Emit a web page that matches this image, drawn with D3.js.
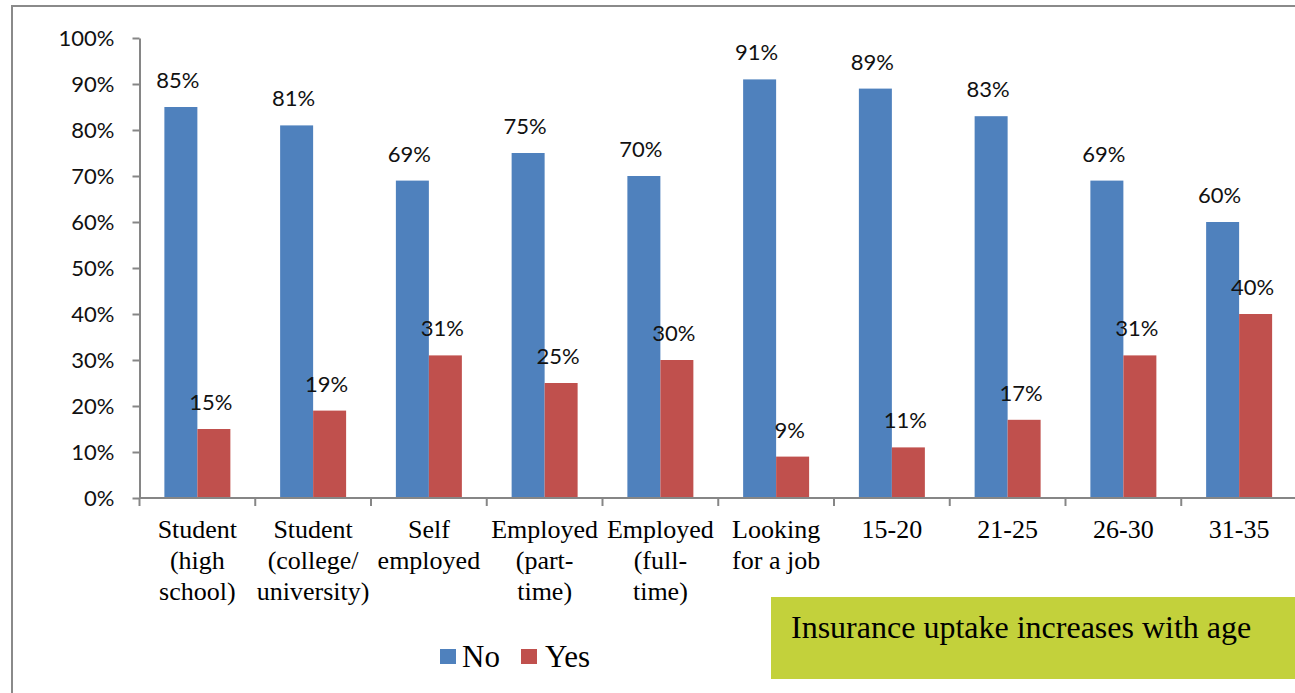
<!DOCTYPE html>
<html>
<head>
<meta charset="utf-8">
<script src="https://cdn.jsdelivr.net/npm/d3@7"></script>
<style>
  html, body { margin: 0; padding: 0; background: #fff; }
  svg { display: block; }
</style>
</head>
<body>
<svg id="chart" width="1295" height="693"></svg>
<script>
// Categories (employment status, then age groups), each label split into lines
const categories = [
  "Student (high school)", "Student (college/ university)", "Self employed",
  "Employed (part-time)", "Employed (full-time)", "Looking for a job",
  "15-20", "21-25", "26-30", "31-35"
];
const categoryLines = [
  ["Student", "(high", "school)"],
  ["Student", "(college/", "university)"],
  ["Self", "employed"],
  ["Employed", "(part-", "time)"],
  ["Employed", "(full-", "time)"],
  ["Looking", "for a job"],
  ["15-20"], ["21-25"], ["26-30"], ["31-35"]
];
const seriesNames = ["No", "Yes"];
const noValues  = [85, 81, 69, 75, 70, 91, 89, 83, 69, 60];
const yesValues = [15, 19, 31, 25, 30, 9, 11, 17, 31, 40];
const yTicks = [0, 10, 20, 30, 40, 50, 60, 70, 80, 90, 100];
const noteText = "Insurance uptake increases with age";

const colors = { No: "#4F81BD", Yes: "#C0504D" };
const axisGray = "#868686";
const sansFont = "Lato, 'Open Sans', sans-serif";
const serifFont = "'Liberation Serif', 'Times New Roman', serif";

const svg = d3.select("#chart");

// Outer frame of the figure
svg.append("path")
  .attr("d", "M12,700 L12,6 L1300,6")
  .attr("fill", "none")
  .attr("stroke", "#8a8a8a")
  .attr("stroke-width", 2);

const plot = { left: 139.5, right: 1297, top: 38, bottom: 498 };

const x0 = d3.scaleBand().domain(categories).range([plot.left, plot.right]).padding(0);
const x1 = d3.scaleBand().domain(seriesNames).range([0, x0.bandwidth()])
  .paddingInner(0).paddingOuter(0.754);
const y = d3.scaleLinear().domain([0, 100]).range([plot.bottom, plot.top]);

const rows = categories.map((c, i) => ({ cat: c, lines: categoryLines[i], No: noValues[i], Yes: yesValues[i] }));

// Bars
const groups = svg.append("g").selectAll("g").data(rows).join("g")
  .attr("transform", d => `translate(${x0(d.cat)},0)`);

groups.selectAll("rect")
  .data(d => seriesNames.map(s => ({ s, v: d[s] })))
  .join("rect")
  .attr("x", d => x1(d.s))
  .attr("width", x1.bandwidth())
  .attr("y", d => y(d.v))
  .attr("height", d => y(0) - y(d.v))
  .attr("fill", d => colors[d.s]);

// Value labels above bars
groups.selectAll("text.val")
  .data(d => seriesNames.map(s => ({ s, v: d[s] })))
  .join("text")
  .attr("class", "val")
  .attr("x", d => x1(d.s) + x1.bandwidth() / 2 - 3)
  .attr("y", d => y(d.v) - 19)
  .attr("text-anchor", "middle")
  .attr("font-family", sansFont)
  .attr("font-size", 22)
  .attr("fill", "#111")
  .text(d => d.v + "%");

// Y axis
const yAxis = d3.axisLeft(y).tickValues(yTicks).tickFormat(d => d + "%")
  .tickSize(7).tickSizeOuter(0).tickPadding(18);
const yg = svg.append("g").attr("transform", `translate(${plot.left},0)`).call(yAxis);
yg.select(".domain").attr("stroke", axisGray).attr("stroke-width", 2);
yg.selectAll(".tick line").attr("stroke", axisGray).attr("stroke-width", 2);
yg.selectAll(".tick text")
  .attr("font-family", sansFont).attr("font-size", 22).attr("fill", "#111");

// X axis line with ticks at category boundaries
const xg = svg.append("g");
xg.append("line")
  .attr("x1", plot.left).attr("x2", plot.right + 5)
  .attr("y1", y(0)).attr("y2", y(0))
  .attr("stroke", axisGray).attr("stroke-width", 2);
xg.selectAll("line.tick")
  .data(categories.concat([null]))
  .join("line")
  .attr("class", "tick")
  .attr("x1", (d, i) => plot.left + i * x0.step())
  .attr("x2", (d, i) => plot.left + i * x0.step())
  .attr("y1", y(0)).attr("y2", y(0) + 8)
  .attr("stroke", axisGray).attr("stroke-width", 2);

// Category labels
const catLabels = svg.append("g").selectAll("text").data(rows).join("text")
  .attr("x", d => x0(d.cat) + x0.bandwidth() / 2)
  .attr("y", y(0) + 40)
  .attr("text-anchor", "middle")
  .attr("font-family", serifFont)
  .attr("font-size", 26)
  .attr("fill", "#000");
catLabels.selectAll("tspan")
  .data(d => d.lines.map(l => ({ l, x: x0(d.cat) + x0.bandwidth() / 2 })))
  .join("tspan")
  .attr("x", d => d.x)
  .attr("dy", (d, i) => i === 0 ? 0 : 31)
  .text(d => d.l);

// Legend
const legend = svg.append("g");
const legendItems = [
  { s: "No", x: 440 },
  { s: "Yes", x: 521 }
];
legend.selectAll("rect").data(legendItems).join("rect")
  .attr("x", d => d.x).attr("y", 649)
  .attr("width", 16).attr("height", 15)
  .attr("fill", d => colors[d.s]);
legend.selectAll("text").data(legendItems).join("text")
  .attr("x", d => d.x + (d.s === "No" ? 22 : 24))
  .attr("y", 667)
  .attr("font-family", serifFont)
  .attr("font-size", 31)
  .attr("fill", "#000")
  .text(d => d.s);

// Highlighted note
svg.append("rect")
  .attr("x", 771).attr("y", 597)
  .attr("width", 560).attr("height", 82)
  .attr("fill", "#C3D13B");
svg.append("text")
  .attr("x", 791).attr("y", 638)
  .attr("font-family", serifFont)
  .attr("font-size", 32)
  .attr("fill", "#000")
  .text(noteText);
</script>
</body>
</html>
